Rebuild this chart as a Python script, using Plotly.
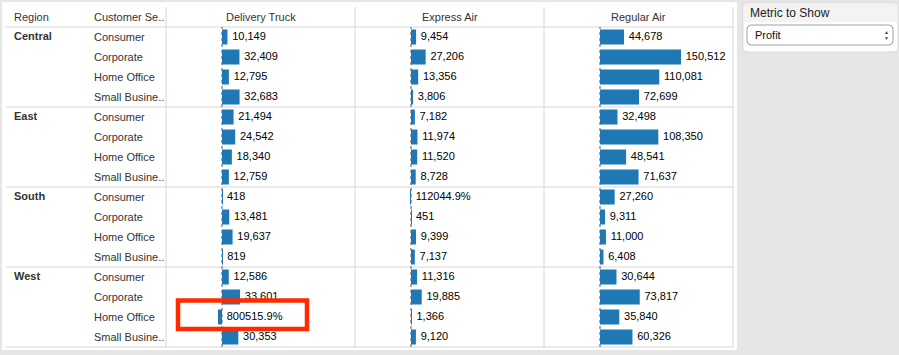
import plotly.graph_objects as go

# ---------------- data ----------------
regions = ["Central", "East", "South", "West"]
segments = ["Consumer", "Corporate", "Home Office", "Small Busine.."]
ship_modes = ["Delivery Truck", "Express Air", "Regular Air"]

delivery_truck = [10149, 32409, 12795, 32683,
                  21494, 24542, 18340, 12759,
                  418, 13481, 19637, 819,
                  12586, 33601, -7400, 30353]
express_air = [9454, 27206, 13356, 3806,
               7182, 11974, 11520, 8728,
               -150, 451, 9399, 7137,
               11316, 19885, 1366, 9120]
regular_air = [44678, 150512, 110081, 72699,
               32498, 108350, 48541, 71637,
               27260, 9311, 11000, 6408,
               30644, 73817, 35840, 60326]

# labels shown in the view that are not plain values
label_overrides = {
    ("Delivery Truck", 14): "800515.9%",
    ("Express Air", 8): "112044.9%",
}

metric_title = "Metric to Show"
metric_value = "Profit"

# ---------------- layout helpers ----------------
W, H = 899, 355


def px(x):
    return x / W


def py(y):
    return 1 - y / H


col_edges = [166, 355, 544, 733]
zero_offset = 56
scale = 81 / 150512  # px per unit
row_top, row_bottom, header_top = 27, 347, 7
n_rows = len(regions) * len(segments)
rows = list(range(n_rows))

FONT = "Arial, Liberation Sans, Helvetica, sans-serif"
GRID = "#d6d6d6"
BLUE = "#1f77b4"

fig = go.Figure()

series = [delivery_truck, express_air, regular_air]
layout_axes = {}
for i, (mode, vals) in enumerate(zip(ship_modes, series)):
    xa = "x" if i == 0 else f"x{i + 1}"
    labels = [label_overrides.get((mode, r), f"{v:,}") for r, v in enumerate(vals)]
    fig.add_trace(go.Bar(
        x=vals, y=rows, orientation="h", width=0.75,
        marker=dict(color=BLUE, line=dict(width=0)),
        xaxis=xa, yaxis="y", hoverinfo="skip", showlegend=False,
    ))
    fig.add_trace(go.Scatter(
        x=[max(v, 0) for v in vals], y=rows, mode="markers+text", text=labels,
        textposition="middle right",
        textfont=dict(family=FONT, size=11, color="#000000"),
        marker=dict(size=6, opacity=0),
        xaxis=xa, yaxis="y", hoverinfo="skip", showlegend=False,
        cliponaxis=False,
    ))
    width = col_edges[i + 1] - col_edges[i]
    key = "xaxis" if i == 0 else f"xaxis{i + 1}"
    layout_axes[key] = dict(
        domain=[px(col_edges[i]), px(col_edges[i + 1])],
        range=[-zero_offset / scale, (width - zero_offset) / scale],
        showgrid=False, zeroline=False, showticklabels=False, ticks="",
        showline=False, fixedrange=True, anchor="y",
    )

layout_axes["yaxis"] = dict(
    domain=[py(row_bottom), py(row_top)],
    range=[n_rows - 0.5, -0.5],
    showgrid=False, zeroline=False, showticklabels=False, ticks="",
    showline=False, fixedrange=True,
)

shapes = []
# white table background
shapes.append(dict(type="rect", xref="paper", yref="paper",
                   x0=px(2), x1=px(737), y0=py(350), y1=py(2),
                   fillcolor="white", line=dict(width=0), layer="below"))
# horizontal lines: header bottom, region separators, bottom
for yy in [27, 107, 187, 267, 347]:
    shapes.append(dict(type="line", xref="paper", yref="paper",
                       x0=px(6), x1=px(733), y0=py(yy), y1=py(yy),
                       line=dict(color=GRID, width=1), layer="below"))
# vertical lines
for xx in col_edges:
    shapes.append(dict(type="line", xref="paper", yref="paper",
                       x0=px(xx), x1=px(xx), y0=py(header_top), y1=py(row_bottom),
                       line=dict(color=GRID, width=1), layer="below"))
# dotted zero lines
for i in range(3):
    xa = "x" if i == 0 else f"x{i + 1}"
    shapes.append(dict(type="line", xref=xa, yref="paper",
                       x0=0, x1=0, y0=py(row_bottom), y1=py(row_top),
                       line=dict(color="#555555", width=1, dash="dot"), layer="below"))


def rounded_path(x0, y0, x1, y1, r):
    return (f"M {px(x0 + r)},{py(y0)} L {px(x1 - r)},{py(y0)} "
            f"Q {px(x1)},{py(y0)} {px(x1)},{py(y0 + r)} "
            f"L {px(x1)},{py(y1 - r)} Q {px(x1)},{py(y1)} {px(x1 - r)},{py(y1)} "
            f"L {px(x0 + r)},{py(y1)} Q {px(x0)},{py(y1)} {px(x0)},{py(y1 - r)} "
            f"L {px(x0)},{py(y0 + r)} Q {px(x0)},{py(y0)} {px(x0 + r)},{py(y0)} Z")


# right parameter panel
shapes.append(dict(type="path", xref="paper", yref="paper",
                   path=rounded_path(743, 3, 898, 52, 4),
                   fillcolor="#ffffff", line=dict(color="#d9d9d9", width=1)))
shapes.append(dict(type="path", xref="paper", yref="paper",
                   path=(f"M {px(747)},{py(3.5)} L {px(894)},{py(3.5)} "
                         f"Q {px(897.5)},{py(3.5)} {px(897.5)},{py(7)} "
                         f"L {px(897.5)},{py(22)} L {px(743.5)},{py(22)} "
                         f"L {px(743.5)},{py(7)} Q {px(743.5)},{py(3.5)} {px(747)},{py(3.5)} Z"),
                   fillcolor="#f3f3f3", line=dict(width=0)))
shapes.append(dict(type="path", xref="paper", yref="paper",
                   path=rounded_path(747, 25, 893, 45, 4),
                   fillcolor="#ffffff", line=dict(color="#a0a0a0", width=1)))

# red highlight box
shapes.append(dict(type="rect", xref="paper", yref="paper",
                   x0=px(178), x1=px(307), y0=py(329), y1=py(300.5),
                   fillcolor="rgba(0,0,0,0)", line=dict(color="#ff2a00", width=4.5)))

annotations = []
# headers
annotations.append(dict(text="Region", x=px(12), y=py(17), xref="paper", yref="paper",
                        xanchor="left", yanchor="middle", showarrow=False,
                        font=dict(family=FONT, size=11, color="#333333")))
annotations.append(dict(text="Customer Se..", x=px(92), y=py(17), xref="paper", yref="paper",
                        xanchor="left", yanchor="middle", showarrow=False,
                        font=dict(family=FONT, size=11, color="#333333")))
for i, mode in enumerate(ship_modes):
    cx = (col_edges[i] + col_edges[i + 1]) / 2
    annotations.append(dict(text=mode, x=px(cx), y=py(17), xref="paper", yref="paper",
                            xanchor="center", yanchor="middle", showarrow=False,
                            font=dict(family=FONT, size=11, color="#333333")))
# row labels
for gi, region in enumerate(regions):
    annotations.append(dict(text=f"<b>{region}</b>", x=px(12), y=gi * len(segments),
                            xref="paper", yref="y", xanchor="left", yanchor="middle",
                            yshift=1, showarrow=False,
                            font=dict(family=FONT, size=11, color="#333333")))
    for si, seg in enumerate(segments):
        annotations.append(dict(text=seg, x=px(92), y=gi * len(segments) + si,
                                xref="paper", yref="y", xanchor="left", yanchor="middle",
                                showarrow=False,
                                font=dict(family=FONT, size=11, color="#333333")))
# parameter panel text
annotations.append(dict(text=metric_title, x=px(748), y=py(13), xref="paper", yref="paper",
                        xanchor="left", yanchor="middle", showarrow=False,
                        font=dict(family=FONT, size=12, color="#222222")))
annotations.append(dict(text=metric_value, x=px(753), y=py(35), xref="paper", yref="paper",
                        xanchor="left", yanchor="middle", showarrow=False,
                        font=dict(family=FONT, size=11, color="#111111")))
annotations.append(dict(text="▲", x=px(886), y=py(32), xref="paper", yref="paper",
                        xanchor="center", yanchor="middle", showarrow=False,
                        font=dict(family=FONT, size=5, color="#444444")))
annotations.append(dict(text="▼", x=px(886), y=py(38.5), xref="paper", yref="paper",
                        xanchor="center", yanchor="middle", showarrow=False,
                        font=dict(family=FONT, size=5, color="#444444")))

fig.update_layout(
    width=W, height=H,
    margin=dict(l=0, r=0, t=0, b=0),
    paper_bgcolor="#e6e6e6", plot_bgcolor="rgba(0,0,0,0)",
    showlegend=False, barmode="overlay",
    shapes=shapes, annotations=annotations,
    **layout_axes,
)

fig.write_html(
    "out.html",
    config={"displayModeBar": False},
    post_script="document.body.style.margin='0';document.body.style.padding='0';"
                "document.body.style.background='#e6e6e6';",
)
